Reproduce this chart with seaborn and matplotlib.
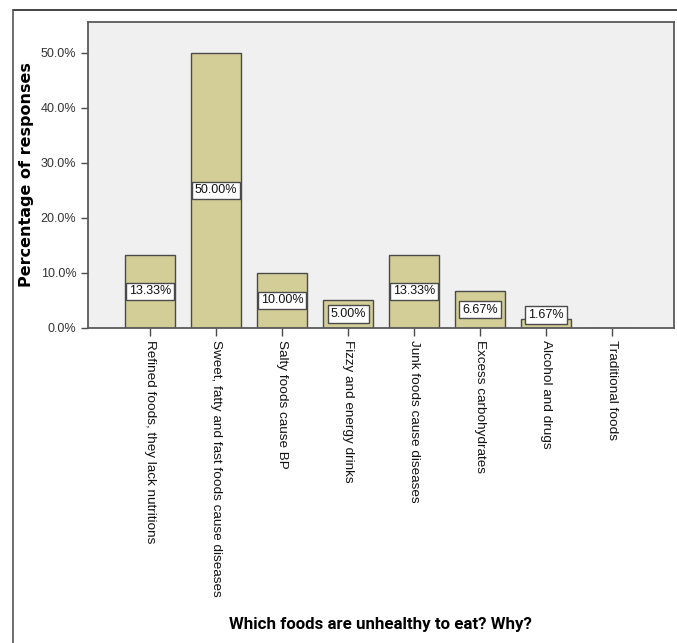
import matplotlib
matplotlib.use("Agg")
import matplotlib.pyplot as plt
from matplotlib.lines import Line2D
from matplotlib.ticker import FuncFormatter
import seaborn as sns
import pandas as pd

# values
categories = [
    "Refined foods, they lack nutritions",
    "Sweet, fatty and fast foods cause diseases",
    "Salty foods cause BP",
    "Fizzy and energy drinks",
    "Junk foods cause diseases",
    "Excess carbohydrates",
    "Alcohol and drugs",
    "Traditional foods",
]
percentages = [13.33, 50.00, 10.00, 5.00, 13.33, 6.67, 1.67, 0.0]
y_ticks = [0, 10, 20, 30, 40, 50]

bar_color = "#d3ce98"
edge_color = "#4a4a4a"

df = pd.DataFrame({"category": categories, "pct": percentages})

sns.set_style("white")
plt.rcParams["font.family"] = ["Liberation Sans", "DejaVu Sans"]

fig = plt.figure(figsize=(6.77, 6.43), dpi=100)
ax = fig.add_axes([0.130, 0.4899, 0.8656, 0.4759])
ax.set_facecolor("#f0f0f0")

sns.barplot(data=df, x="category", y="pct", color=bar_color, saturation=1,
            edgecolor=edge_color, linewidth=1.0, width=0.76, ax=ax)

ax.set_xlim(-0.94, 7.94)
ax.set_ylim(0, 55.6)
ax.set_yticks(y_ticks)
ax.yaxis.set_major_formatter(FuncFormatter(lambda v, p: f"{v:.1f}%"))

# value labels in white boxes
for i, v in enumerate(percentages):
    if v <= 0:
        continue
    ax.text(i, max(v / 2, 2.4), f"{v:.2f}%", ha="center", va="center",
            fontsize=9, color="#111111",
            bbox=dict(boxstyle="square,pad=0.22", fc="white", ec=edge_color, lw=1.0))

ax.set_xticks(range(len(categories)))
ax.set_xticklabels(categories, rotation=-90, ha="center", va="top",
                   fontsize=9.7, color="#111111")
ax.tick_params(axis="x", direction="out", length=6, width=1, color=edge_color, pad=3,
               bottom=True)
ax.tick_params(axis="y", direction="out", length=5, width=1, color=edge_color,
               labelsize=9, labelcolor="#333333", left=True)

for s in ax.spines.values():
    s.set_visible(True)
    s.set_color("#5a5a5a")
    s.set_linewidth(1.3)

ax.set_ylabel("Percentage of responses", fontsize=11.5, fontweight="bold",
              family=["DejaVu Sans"], color="black", labelpad=5)
ax.set_xlabel("")
fig.text(0.562, 0.029, "Which foods are unhealthy to eat? Why?", ha="center",
         va="center", fontsize=12.2, fontweight="bold", family=["Roboto", "DejaVu Sans"],
         color="black")

# outer frame (top and left edges visible)
fig.add_artist(Line2D([13 / 677, 1.0], [1 - 10 / 643, 1 - 10 / 643],
                      color="#222222", lw=1.2, transform=fig.transFigure))
fig.add_artist(Line2D([13 / 677, 13 / 677], [0, 1 - 10 / 643],
                      color="#555555", lw=1.2, transform=fig.transFigure))

fig.savefig("out.png", dpi=100)
